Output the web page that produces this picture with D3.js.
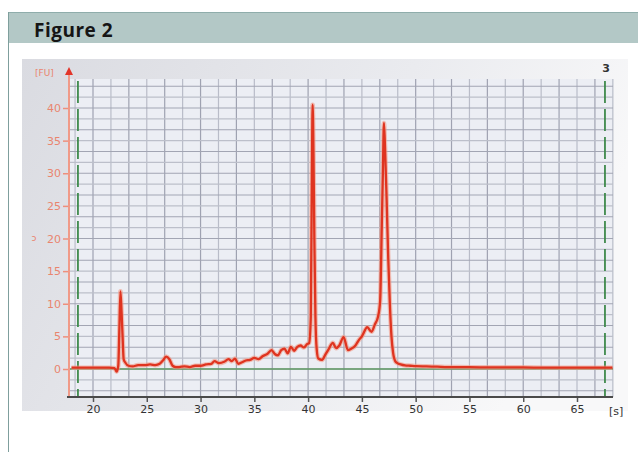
<!DOCTYPE html>
<html><head><meta charset="utf-8">
<script src="https://cdn.jsdelivr.net/npm/d3@7"></script>
<style>body{margin:0;background:#fff;overflow:hidden}</style>
</head><body>
<svg id="chart" width="638" height="452"></svg>
<script>
// Electropherogram trace: migration time [s] and fluorescence [FU]
const times = [18.0,18.6,19.5,20.5,21.5,22.0,22.2,22.35,22.45,22.55,22.65,22.75,22.85,23.0,23.3,23.7,24.2,24.8,25.3,25.8,26.2,26.5,26.8,27.1,27.4,27.7,28.0,28.5,29.0,29.5,30.0,30.5,31.0,31.3,31.7,32.2,32.6,32.9,33.2,33.5,33.8,34.2,34.6,35.0,35.4,35.8,36.2,36.6,36.9,37.2,37.5,37.8,38.1,38.4,38.7,39.0,39.3,39.6,39.9,40.1,40.25,40.35,40.42,40.5,40.58,40.68,40.8,40.95,41.3,41.6,41.9,42.3,42.6,42.9,43.3,43.7,44.0,44.4,44.7,45.0,45.5,45.9,46.2,46.5,46.7,46.85,46.95,47.05,47.15,47.3,47.45,47.6,47.75,47.9,48.1,48.3,48.6,49.0,49.5,50.0,51,52,53,54,56,58,60,62,64,66,68.3];
const fu =    [0.2,0.2,0.2,0.2,0.2,0.15,-0.4,0.5,6,11.9,9,5,1.5,1.0,0.5,0.4,0.6,0.6,0.7,0.6,0.8,1.3,1.9,1.5,0.5,0.3,0.3,0.4,0.3,0.5,0.5,0.7,0.8,1.2,0.9,1.1,1.5,1.2,1.6,0.8,1.0,1.3,1.4,1.7,1.5,2.0,2.3,2.9,2.3,2.1,2.9,3.1,2.4,3.4,2.8,3.4,3.6,3.3,3.8,4.0,8,30,40.5,33,20,8,3,1.6,1.4,2.2,3.0,4.0,3.2,3.6,4.9,2.9,3.1,3.6,4.4,5.0,6.4,5.7,6.8,8.0,10.5,22,30,37.7,34,26,17,10,5,2.5,1.2,0.9,0.7,0.55,0.5,0.45,0.4,0.35,0.3,0.3,0.25,0.25,0.25,0.2,0.2,0.2,0.2];
const xTickValues = [20,25,30,35,40,45,50,55,60,65];
const yTickValues = [0,5,10,15,20,25,30,35,40];
const markerTimes = [18.6, 67.6];

const svg = d3.select("#chart");

// Figure frame with title band
svg.append("rect").attr("x",8).attr("y",12).attr("width",630).attr("height",31).attr("fill","#b3c8c6");
svg.append("line").attr("x1",8).attr("x2",638).attr("y1",12.5).attr("y2",12.5).attr("stroke","#8fadab");
svg.append("line").attr("x1",8.5).attr("x2",8.5).attr("y1",12).attr("y2",452).attr("stroke","#7f9f9d");
svg.append("text").attr("x",34).attr("y",37).text("Figure 2")
  .attr("font-family","'Open Sans', sans-serif").attr("font-weight","bold").attr("font-size",19)
  .attr("letter-spacing",0.5).attr("fill","#151515");

// Panel background
const defs = svg.append("defs");
const grad = defs.append("linearGradient").attr("id","panelGrad").attr("x1","0").attr("x2","1").attr("y1","0").attr("y2","0.3");
grad.append("stop").attr("offset","0").attr("stop-color","#dadbe1");
grad.append("stop").attr("offset","0.6").attr("stop-color","#eaebef");
grad.append("stop").attr("offset","1").attr("stop-color","#f8f8f9");
svg.append("rect").attr("x",22).attr("y",59).attr("width",606).attr("height",352).attr("fill","url(#panelGrad)");

const x = d3.scaleLinear().domain([20,65]).range([93,577]);
const y = d3.scaleLinear().domain([0,40]).range([369,108]);
const xMin = x.invert(69), xMax = x.invert(613);
const yMin = y.invert(397), yMax = y.invert(79);

// Plot area
svg.append("rect").attr("x",x(xMin)).attr("y",y(yMax)).attr("width",x(xMax)-x(xMin)).attr("height",y(yMin)-y(yMax)).attr("fill","#eceef4");

// Grid
const step = 5/3;
const gx = d3.range(20 - step, xMax, step);
const gy = d3.range(-2*step, 44.5, step);
const grid = svg.append("g");
grid.selectAll("line.v").data(gx).join("line").attr("class","v")
  .attr("x1",d=>x(d)).attr("x2",d=>x(d)).attr("y1",y(yMax)).attr("y2",y(yMin))
  .attr("stroke",(d,i)=> i%2===1 ? "#9fa2b1" : "#b9bcc8").attr("stroke-width",1.2);
grid.selectAll("line.h").data(gy).join("line").attr("class","h")
  .attr("x1",x(xMin)).attr("x2",x(xMax)).attr("y1",d=>y(d)).attr("y2",d=>y(d))
  .attr("stroke",(d,i)=> i%2===0 ? "#a2a5b3" : "#bcbfca").attr("stroke-width",1.2);

// Zero baseline
svg.append("line").attr("x1",x(xMin)).attr("x2",x(xMax)).attr("y1",y(0)).attr("y2",y(0))
  .attr("stroke","#5f9a63").attr("stroke-width",1.4);

// Marker lines
svg.selectAll("line.marker").data(markerTimes).join("line").attr("class","marker")
  .attr("x1",d=>x(d)).attr("x2",d=>x(d)).attr("y1",y(yMax)+2).attr("y2",y(yMin))
  .attr("stroke","#3f8a4c").attr("stroke-width",1.8).attr("stroke-dasharray","22,6");

// Trace
const pts = times.map((t,i)=>[t,fu[i]]);
const line = d3.line().x(d=>x(d[0])).y(d=>y(d[1])).curve(d3.curveMonotoneX);
svg.append("path").datum(pts).attr("d",line).attr("fill","none")
  .attr("stroke","#f29a86").attr("stroke-width",4.6).attr("stroke-opacity",0.6).attr("stroke-linejoin","round");
svg.append("path").datum(pts).attr("d",line).attr("fill","none")
  .attr("stroke","#df3420").attr("stroke-width",2.3).attr("stroke-linejoin","round");

// Y axis
const yAxis = d3.axisLeft(y).tickValues(yTickValues).tickSize(6).tickPadding(2);
const gY = svg.append("g").attr("transform",`translate(${x(xMin)},0)`).call(yAxis);
gY.select(".domain").remove();
gY.selectAll(".tick line").attr("stroke","#ee8f7c").attr("stroke-width",1.5);
gY.selectAll(".tick text").attr("fill","#e9856f").attr("font-family","'DejaVu Sans', sans-serif").attr("font-size",11);
svg.append("line").attr("x1",x(xMin)).attr("x2",x(xMin)).attr("y1",74).attr("y2",y(yMin))
  .attr("stroke","#f09a88").attr("stroke-width",2);
svg.append("path").attr("d",`M${x(xMin)-4},75 L${x(xMin)+4},75 L${x(xMin)},67 Z`).attr("fill","#e2352a");
svg.append("text").attr("x",35).attr("y",76).text("[FU]")
  .attr("fill","#e9856f").attr("font-family","'DejaVu Sans', sans-serif").attr("font-size",9);
svg.append("text").attr("x",34).attr("y",241).text("ɔ").attr("text-anchor","middle")
  .attr("fill","#e9856f").attr("font-family","'DejaVu Sans', sans-serif").attr("font-size",9);

// X axis
const xAxis = d3.axisBottom(x).tickValues(xTickValues).tickSize(5).tickPadding(3);
const gX = svg.append("g").attr("transform",`translate(0,${y(yMin)})`).call(xAxis);
gX.select(".domain").remove();
gX.selectAll(".tick line").attr("stroke","#555").attr("stroke-width",1.5);
gX.selectAll(".tick text").attr("fill","#333").attr("font-family","'DejaVu Sans', sans-serif").attr("font-size",11);
svg.append("line").attr("x1",x(xMin)-2).attr("x2",x(xMax)).attr("y1",y(yMin)).attr("y2",y(yMin))
  .attr("stroke","#4a4a4a").attr("stroke-width",2);
svg.append("text").attr("x",609).attr("y",415).text("[s]")
  .attr("fill","#333").attr("font-family","'DejaVu Sans', sans-serif").attr("font-size",11);

// Lane number
svg.append("text").attr("x",606).attr("y",72).text("3").attr("text-anchor","middle")
  .attr("fill","#333").attr("font-weight","bold").attr("font-family","'DejaVu Sans', sans-serif").attr("font-size",11);
</script>
</body></html>
